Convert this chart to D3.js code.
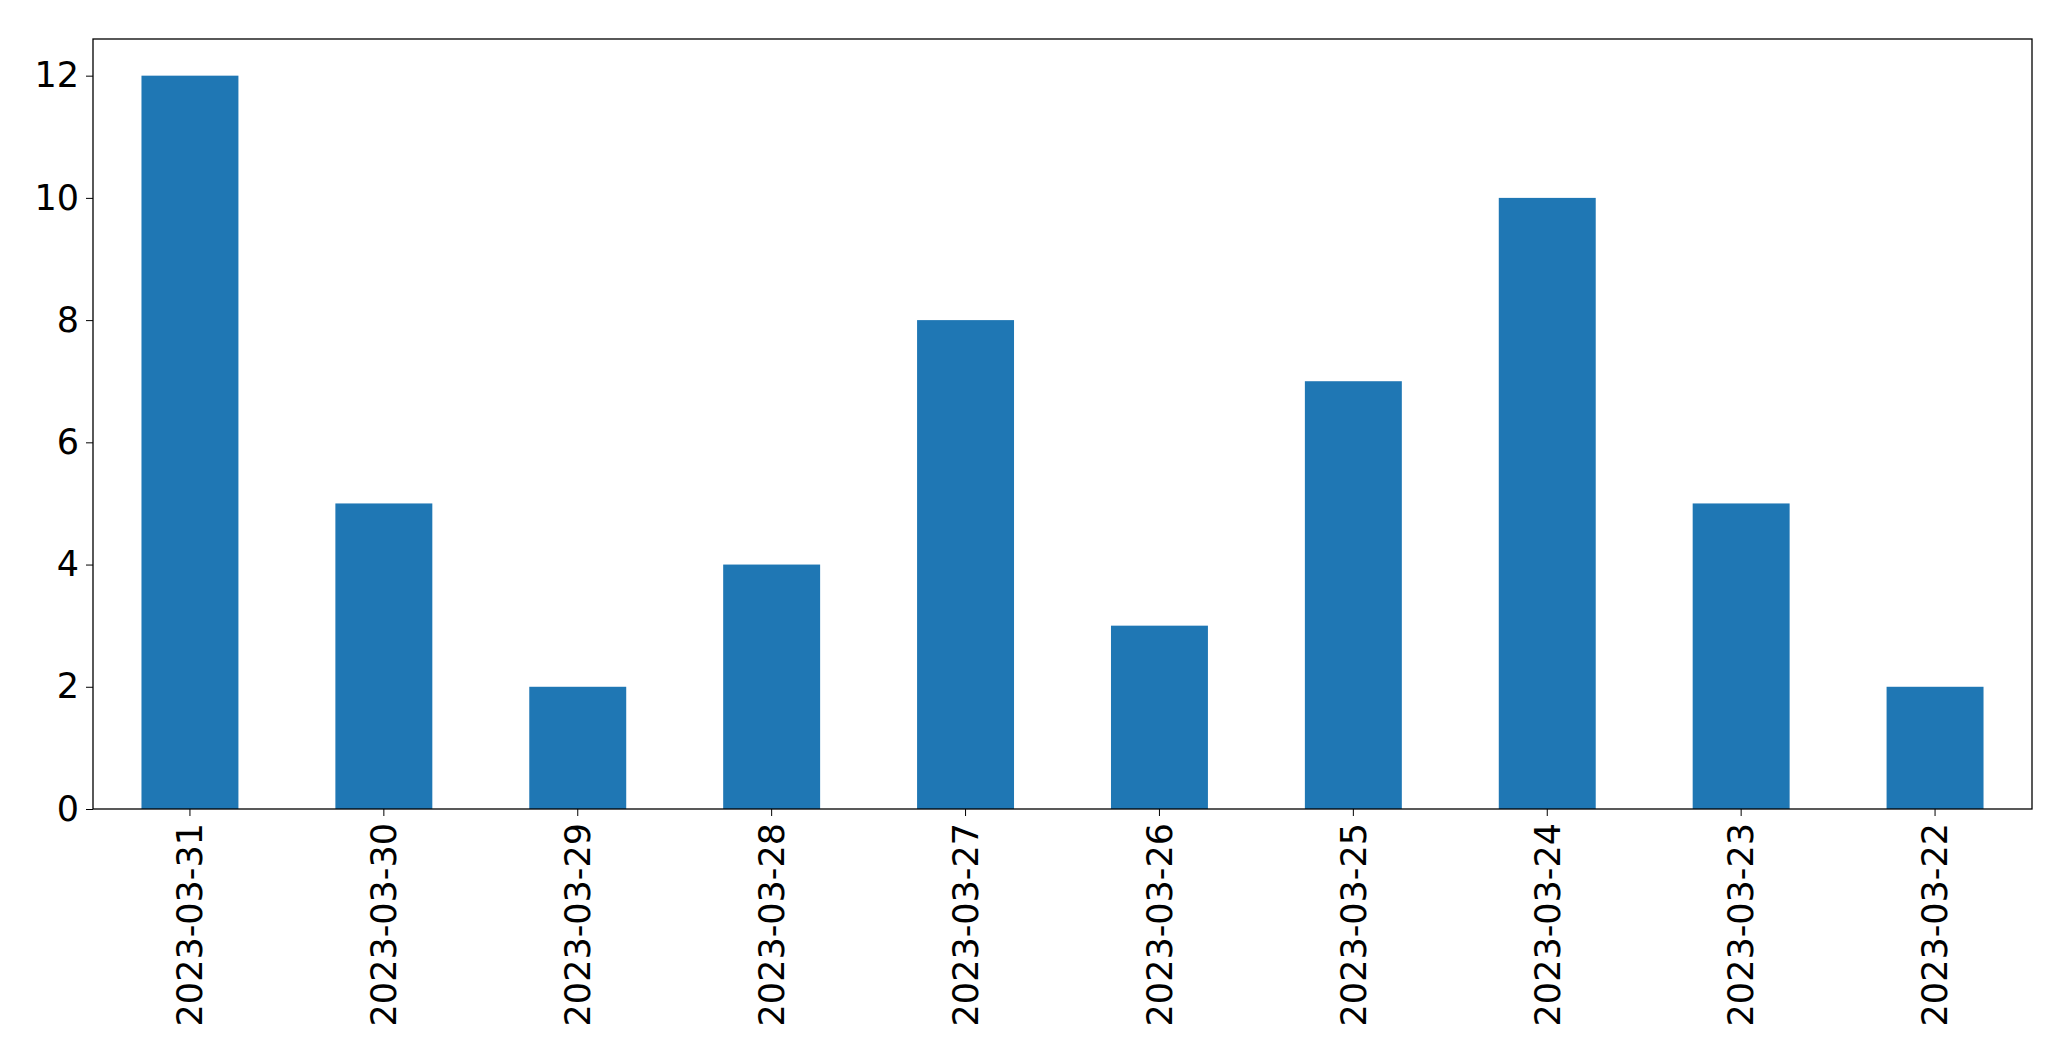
<!DOCTYPE html>
<html><head><meta charset="utf-8">
<script src="https://cdn.jsdelivr.net/npm/d3@7"></script>
<style>body{margin:0;background:#fff}</style></head>
<body><svg id="c" width="2071" height="1061"></svg>
<script>
const categories = ["2023-03-31","2023-03-30","2023-03-29","2023-03-28","2023-03-27","2023-03-26","2023-03-25","2023-03-24","2023-03-23","2023-03-22"];
const values = [12,5,2,4,8,3,7,10,5,2];
const yTicks = [0,2,4,6,8,10,12];

const m = {l:93, r:2071-2032, t:39, b:1061-809};
const W = 2071, H = 1061;
const svg = d3.select("#c");
const x = d3.scaleBand().domain(categories).range([m.l, W-m.r]).paddingInner(0.5).paddingOuter(0.25);
const y = d3.scaleLinear().domain([0,12.6]).range([H-m.b, m.t]);

svg.append("g").selectAll("rect").data(values).join("rect")
  .attr("x",(d,i)=>x(categories[i])).attr("width",x.bandwidth())
  .attr("y",d=>y(d)).attr("height",d=>y(0)-y(d)).attr("fill","#1f77b4");

const font = "DejaVu Sans";
const gy = svg.append("g").attr("transform",`translate(${m.l},0)`)
  .call(d3.axisLeft(y).tickValues(yTicks).tickSize(7).tickPadding(7));
gy.selectAll("text").attr("font-family",font).attr("font-size",35).attr("fill","#000");
gy.select(".domain").remove();

const gx = svg.append("g").attr("transform",`translate(0,${H-m.b})`)
  .call(d3.axisBottom(x).tickSize(7).tickSizeOuter(0));
gx.select(".domain").remove();
gx.selectAll("text").attr("font-family",font).attr("font-size",35).attr("fill","#000")
  .attr("transform","rotate(-90)").attr("text-anchor","end")
  .attr("x",-14).attr("y",0).attr("dy","0.35em");

svg.append("rect").attr("x",m.l).attr("y",m.t).attr("width",W-m.r-m.l).attr("height",H-m.b-m.t)
  .attr("fill","none").attr("stroke","#000").attr("stroke-width",1.3);
</script></body></html>
